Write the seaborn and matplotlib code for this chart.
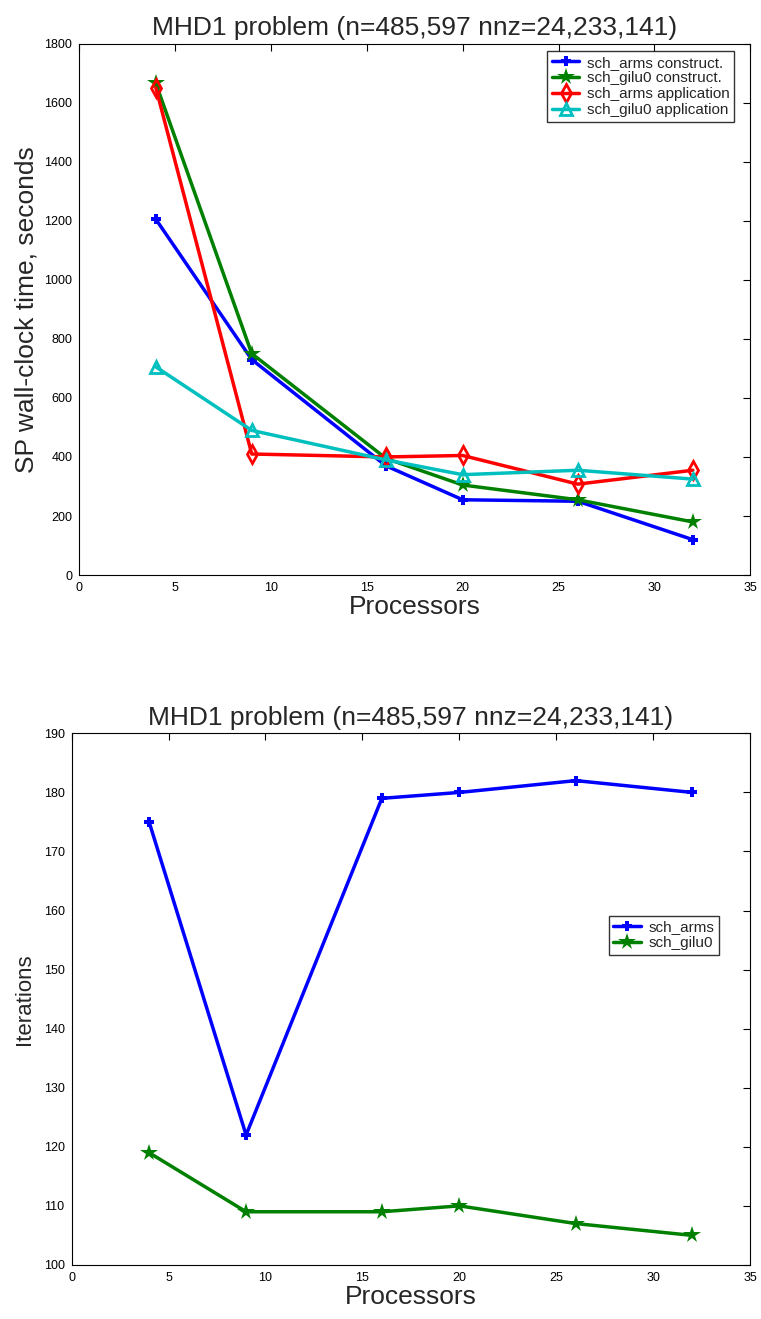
import pandas as pd
import matplotlib.pyplot as plt
import seaborn as sns

sns.set_style("white")
plt.rcParams['font.family'] = ['Liberation Sans', 'DejaVu Sans']

# --- data ---
procs = [4, 9, 16, 20, 26, 32]

arms_construct = [1205, 730, 370, 255, 250, 120]
gilu0_construct = [1665, 750, 395, 305, 255, 180]
arms_application = [1650, 410, 400, 405, 308, 355]
gilu0_application = [705, 490, 390, 340, 355, 325]

arms_iters = [175, 122, 179, 180, 182, 180]
gilu0_iters = [119, 109, 109, 110, 107, 105]

title = 'MHD1 problem (n=485,597 nnz=24,233,141)'

fig = plt.figure(figsize=(7.61, 13.19), dpi=100)
ax1 = fig.add_axes([0.104, 0.564, 0.882, 0.403])
ax2 = fig.add_axes([0.094, 0.041, 0.892, 0.403])

top_series = [
    ('sch_arms construct.', arms_construct, '#0000ff', 'P', 7),
    ('sch_gilu0 construct.', gilu0_construct, '#008000', '*', 13),
    ('sch_arms application', arms_application, '#ff0000', 'd', 9),
    ('sch_gilu0 application', gilu0_application, '#00bfbf', '^', 9),
]
for name, vals, col, mk, ms in top_series:
    df = pd.DataFrame({'Processors': procs, 'val': vals})
    if mk in ('d', '^'):
        kw = dict(markerfacecolor='none', markeredgewidth=2)
    else:
        kw = dict(markerfacecolor=col, markeredgewidth=0)
    sns.lineplot(data=df, x='Processors', y='val', ax=ax1, color=col, marker=mk,
                 markersize=ms, linewidth=2.5, label=name, markeredgecolor=col, **kw)

bottom_series = [
    ('sch_arms', arms_iters, '#0000ff', 'P', 7),
    ('sch_gilu0', gilu0_iters, '#008000', '*', 13),
]
for name, vals, col, mk, ms in bottom_series:
    df = pd.DataFrame({'Processors': procs, 'val': vals})
    sns.lineplot(data=df, x='Processors', y='val', ax=ax2, color=col, marker=mk,
                 markersize=ms, linewidth=2.5, label=name, markeredgecolor=col,
                 markeredgewidth=0)

for ax in (ax1, ax2):
    ax.set_xlim(0, 35)
    ax.set_xticks(range(0, 36, 5))
    ax.tick_params(direction='in', top=True, right=True, length=5, labelsize=9,
                   colors='black', width=0.8, pad=5)
    for s in ax.spines.values():
        s.set_color('black')
        s.set_linewidth(0.8)
    ax.set_title(title, fontsize=19, pad=6)
    ax.set_xlabel('Processors', fontsize=19, labelpad=1)

ax1.set_ylim(0, 1800)
ax1.set_yticks(range(0, 1801, 200))
ax1.set_ylabel('SP wall-clock time, seconds', fontsize=19, labelpad=4)
ax1.legend(loc='upper right', bbox_to_anchor=(0.976, 0.986), borderaxespad=0,
           fontsize=11, frameon=True, fancybox=False, edgecolor='black',
           borderpad=0.3, labelspacing=0.12, handlelength=1.8, handletextpad=0.5)

ax2.set_ylim(100, 190)
ax2.set_yticks(range(100, 191, 10))
ax2.set_ylabel('Iterations', fontsize=16, labelpad=6)
ax2.legend(loc='center right', bbox_to_anchor=(0.965, 0.62), fontsize=11,
           frameon=True, fancybox=False, edgecolor='black', borderpad=0.3,
           labelspacing=0.12, handlelength=1.8, handletextpad=0.5)

fig.savefig('out.png', dpi=100)
